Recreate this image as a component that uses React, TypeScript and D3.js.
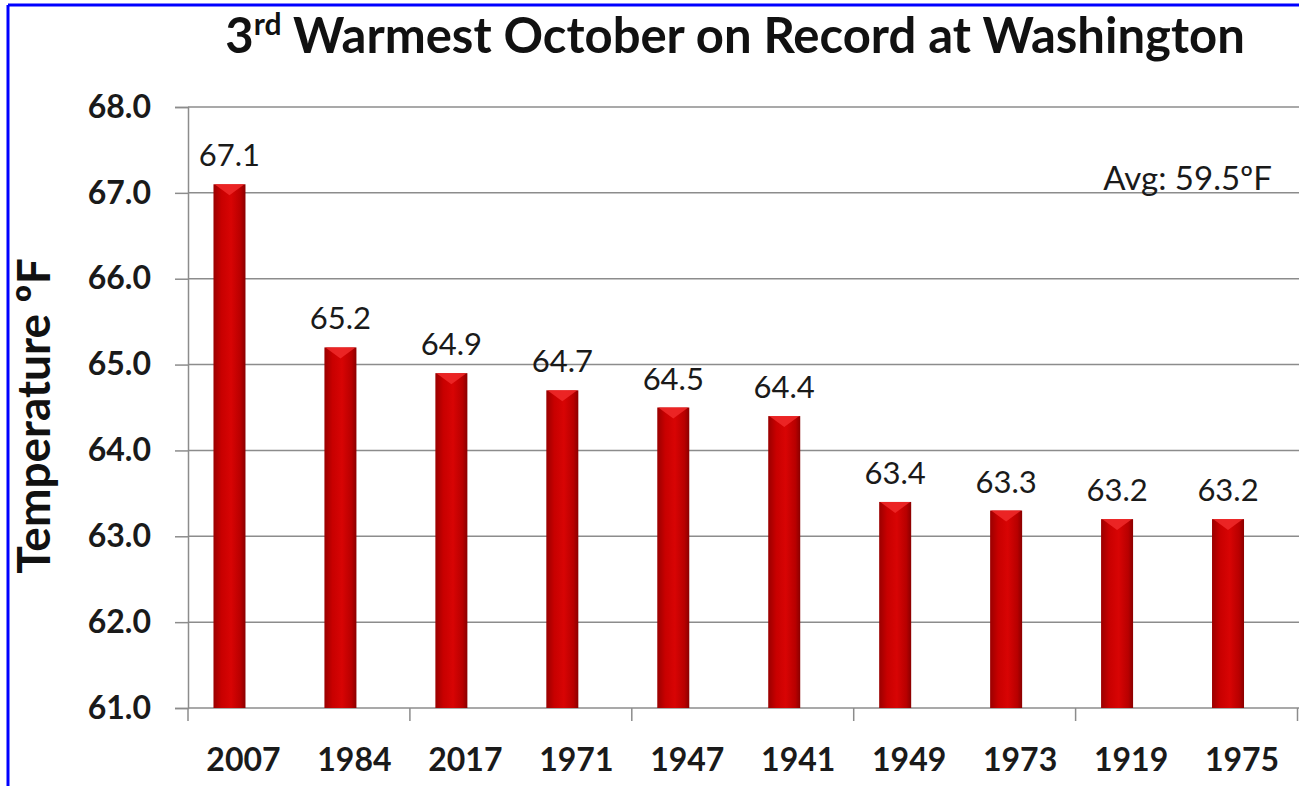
import React, { useEffect, useRef } from 'react'
import * as d3 from 'd3'

const years = ['2007', '1984', '2017', '1971', '1947', '1941', '1949', '1973', '1919', '1975']
const temps = [67.1, 65.2, 64.9, 64.7, 64.5, 64.4, 63.4, 63.3, 63.2, 63.2]
const yTicks = [61, 62, 63, 64, 65, 66, 67, 68]
const avgLabel = 'Avg: 59.5ºF'

export default function App() {
  const svgRef = useRef(null)
  const width = 1299
  const height = 786
  const margin = { top: 107, right: 1, bottom: 78, left: 188 }

  useEffect(() => {
    const svgEl = d3.select(svgRef.current)
    svgEl.selectAll('*').remove()

    const x = d3
      .scaleBand()
      .domain(years)
      .range([margin.left, width - margin.right - 0.5])
      .padding(0)
    const y = d3
      .scaleLinear()
      .domain([61, 68])
      .range([height - margin.bottom, margin.top])

    const defs = svgEl.append('defs')
    const grad = defs
      .append('linearGradient')
      .attr('id', 'barGrad')
      .attr('x1', '0%')
      .attr('y1', '0%')
      .attr('x2', '100%')
      .attr('y2', '0%')
    grad
      .selectAll('stop')
      .data([
        { offset: '0%', color: '#9a0000' },
        { offset: '25%', color: '#c80000' },
        { offset: '55%', color: '#d80404' },
        { offset: '85%', color: '#b80000' },
        { offset: '100%', color: '#8a0000' },
      ])
      .enter()
      .append('stop')
      .attr('offset', (d) => d.offset)
      .attr('stop-color', (d) => d.color)

    // border (only top and left are visible in the crop)
    svgEl
      .append('line')
      .attr('x1', 8)
      .attr('y1', 5)
      .attr('x2', width)
      .attr('y2', 5)
      .attr('stroke', '#0000ff')
      .attr('stroke-width', 3)
    svgEl
      .append('line')
      .attr('x1', 8)
      .attr('y1', 5)
      .attr('x2', 8)
      .attr('y2', height)
      .attr('stroke', '#0000ff')
      .attr('stroke-width', 3)

    // title
    const title = svgEl
      .append('text')
      .attr('x', 735)
      .attr('y', 53)
      .attr('text-anchor', 'middle')
      .attr('font-family', 'Lato, sans-serif')
      .attr('font-weight', 'bold')
      .attr('font-size', 49)
      .attr('fill', '#111')
    title.append('tspan').text('3')
    title.append('tspan').attr('font-size', 30).attr('dy', -18).text('rd')
    title.append('tspan').attr('dy', 18).text(' Warmest October on Record at Washington')

    // y axis + grid
    const yAxisGroup = svgEl
      .append('g')
      .attr('transform', `translate(${margin.left}, 0)`)
      .call(
        d3
          .axisLeft(y)
          .tickValues(yTicks)
          .tickFormat((v) => d3.format('.1f')(v))
          .tickSize(13)
          .tickPadding(24)
      )
    yAxisGroup.select('.domain').attr('stroke', '#8c8c8c').attr('stroke-width', 1.5)
    yAxisGroup.selectAll('line').attr('stroke', '#8c8c8c').attr('stroke-width', 1.5)
    yAxisGroup
      .selectAll('text')
      .attr('font-family', 'Lato, sans-serif')
      .attr('font-weight', 'bold')
      .attr('font-size', 32)
      .attr('fill', '#1a1a1a')

    svgEl
      .append('g')
      .selectAll('line')
      .data(yTicks.filter((t) => t !== 61))
      .enter()
      .append('line')
      .attr('x1', margin.left)
      .attr('x2', width)
      .attr('y1', (d) => y(d))
      .attr('y2', (d) => y(d))
      .attr('stroke', '#8c8c8c')
      .attr('stroke-width', 1.5)

    // x axis
    const xAxisGroup = svgEl
      .append('g')
      .attr('transform', `translate(0, ${y(61)})`)
      .call(d3.axisBottom(x).tickSize(0).tickPadding(40))
    xAxisGroup.select('.domain').remove()
    xAxisGroup
      .selectAll('text')
      .attr('font-family', 'Lato, sans-serif')
      .attr('font-weight', 'bold')
      .attr('font-size', 32)
      .attr('fill', '#1a1a1a')

    svgEl
      .append('line')
      .attr('x1', margin.left)
      .attr('x2', width)
      .attr('y1', y(61))
      .attr('y2', y(61))
      .attr('stroke', '#8c8c8c')
      .attr('stroke-width', 1.5)

    const tickPos = years.filter((_, i) => i % 2 === 0).map((d) => x(d)).concat([x.range()[1]])
    svgEl
      .append('g')
      .selectAll('line')
      .data(tickPos)
      .enter()
      .append('line')
      .attr('x1', (d) => d)
      .attr('x2', (d) => d)
      .attr('y1', y(61))
      .attr('y2', y(61) + 13)
      .attr('stroke', '#8c8c8c')
      .attr('stroke-width', 1.5)

    // bars
    const barW = 32
    const shift = -14
    const cx = (d) => x(d) + x.bandwidth() / 2 + shift
    const data = years.map((yr, i) => ({ yr, v: temps[i] }))

    const bars = svgEl.append('g')
    bars
      .selectAll('rect')
      .data(data)
      .enter()
      .append('rect')
      .attr('x', (d) => cx(d.yr) - barW / 2)
      .attr('y', (d) => y(d.v))
      .attr('width', barW)
      .attr('height', (d) => y(61) - y(d.v))
      .attr('fill', 'url(#barGrad)')

    // lighter top cap
    bars
      .selectAll('polygon')
      .data(data)
      .enter()
      .append('polygon')
      .attr('points', (d) => {
        const l = cx(d.yr) - barW / 2
        const r = cx(d.yr) + barW / 2
        const t = y(d.v)
        return `${l + 1},${t} ${r - 1},${t} ${cx(d.yr)},${t + 11}`
      })
      .attr('fill', '#f02a2a')
      .attr('opacity', 0.85)

    // value labels
    svgEl
      .append('g')
      .selectAll('text')
      .data(data)
      .enter()
      .append('text')
      .attr('x', (d) => cx(d.yr))
      .attr('y', (d) => y(d.v) - 18)
      .attr('text-anchor', 'middle')
      .attr('font-family', 'Lato, sans-serif')
      .attr('font-size', 31)
      .attr('fill', '#1a1a1a')
      .text((d) => d3.format('.1f')(d.v))

    // average note
    svgEl
      .append('text')
      .attr('x', 1272)
      .attr('y', 190)
      .attr('text-anchor', 'end')
      .attr('font-family', 'Lato, sans-serif')
      .attr('font-size', 33)
      .attr('fill', '#1a1a1a')
      .text(avgLabel)

    // y label
    svgEl
      .append('text')
      .attr('transform', `translate(50, 416) rotate(-90)`)
      .attr('text-anchor', 'middle')
      .attr('font-family', 'Lato, sans-serif')
      .attr('font-weight', 'bold')
      .attr('font-size', 46)
      .attr('fill', '#111')
      .text('Temperature ºF')
  }, [])

  return (
    <div style={{ position: 'absolute', left: 0, top: 0 }}>
      <svg ref={svgRef} width={width} height={height} style={{ display: 'block', background: '#fff' }} />
    </div>
  )
}
